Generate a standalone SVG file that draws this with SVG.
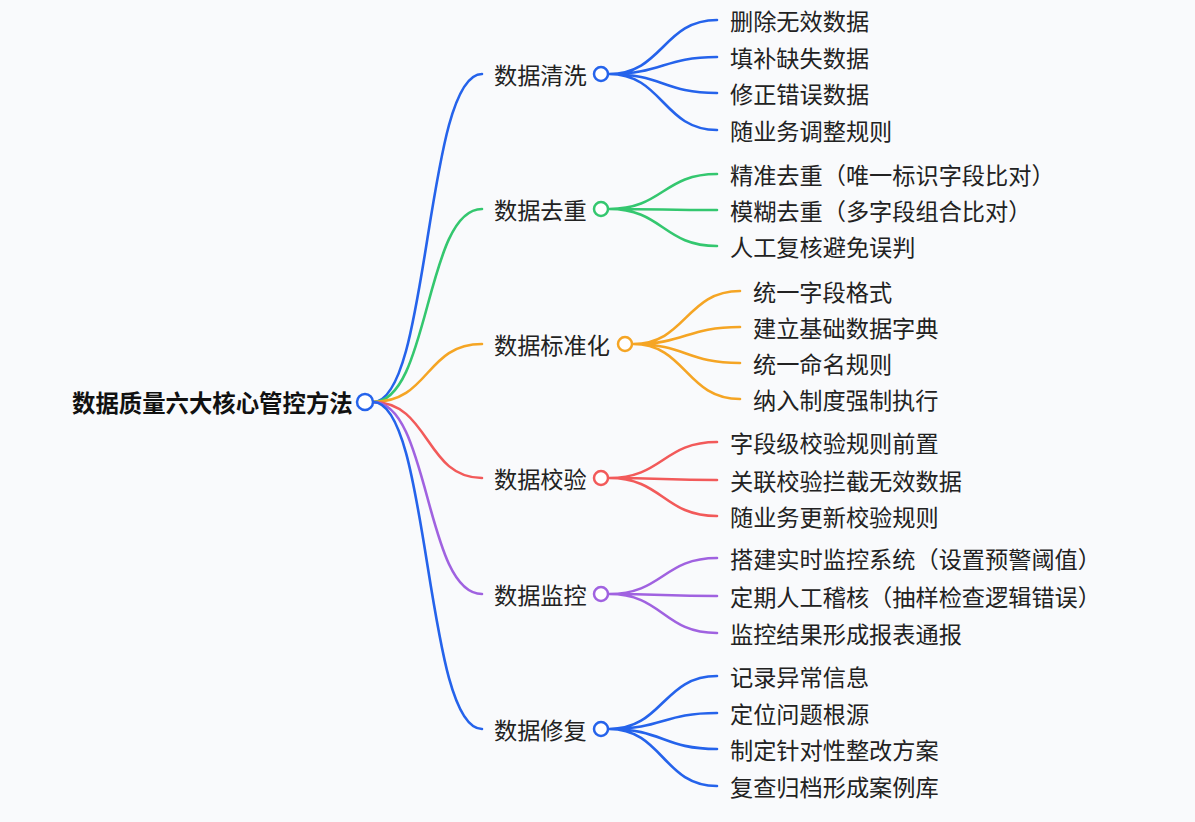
<svg xmlns="http://www.w3.org/2000/svg" width="1195" height="822" viewBox="0 0 1195 822">
<style>
text{font-family:"Noto Sans CJK SC","Noto Sans",sans-serif;font-size:23.2px;fill:#222;dominant-baseline:central}
.root{font-weight:bold;font-size:23.4px;fill:#111}
.l{fill:none;stroke-width:2.6;stroke-linecap:round}
circle{fill:#fff;stroke-width:2.5}
.b1{stroke:#2563eb}.b2{stroke:#34c76f}.b3{stroke:#f5a524}.b4{stroke:#f25a5a}.b5{stroke:#a062e0}.b6{stroke:#2563eb}
</style>
<rect width="1195" height="822" fill="#f9fafc"/>
<g id="connectors">
<path class="l b1" d="M373 402C430 402 425 74 482 74"/>
<path class="l b2" d="M373 402C430 402 425 209 482 209"/>
<path class="l b3" d="M373 402C430 402 425 344 482 344"/>
<path class="l b4" d="M373 402C430 402 425 478 482 478"/>
<path class="l b5" d="M373 402C430 402 425 594 482 594"/>
<path class="l b6" d="M373 402C430 402 425 729 482 729"/>
<path class="l b1" d="M609 74C663 74 663 20 717 20M609 74C663 74 663 57 717 57M609 74C663 74 663 93 717 93M609 74C663 74 663 130 717 130"/>
<path class="l b2" d="M609 209C663 209 663 174 717 174M609 209C663 209 663 210 717 210M609 209C663 209 663 246 717 246"/>
<path class="l b3" d="M633 344C686 344 686 291 740 291M633 344C686 344 686 327 740 327M633 344C686 344 686 363 740 363M633 344C686 344 686 399 740 399"/>
<path class="l b4" d="M609 478C663 478 663 442 717 442M609 478C663 478 663 480 717 480M609 478C663 478 663 516 717 516"/>
<path class="l b5" d="M609 594C663 594 663 558 717 558M609 594C663 594 663 596 717 596M609 594C663 594 663 633 717 633"/>
<path class="l b6" d="M609 729C663 729 663 676 717 676M609 729C663 729 663 713 717 713M609 729C663 729 663 749 717 749M609 729C663 729 663 786 717 786"/>
</g>
<g id="root"><text class="root" x="72" y="402">数据质量六大核心管控方法</text><circle class="b1" cx="365" cy="402" r="8"/></g>
<g id="n1"><text x="494" y="74">数据清洗</text><circle class="b1" cx="601" cy="74" r="7"/></g>
<g id="n1-1"><text x="730" y="20">删除无效数据</text></g>
<g id="n1-2"><text x="730" y="57">填补缺失数据</text></g>
<g id="n1-3"><text x="730" y="93">修正错误数据</text></g>
<g id="n1-4"><text x="730" y="130">随业务调整规则</text></g>
<g id="n2"><text x="494" y="209">数据去重</text><circle class="b2" cx="601" cy="209" r="7"/></g>
<g id="n2-1"><text x="730" y="174">精准去重（唯一标识字段比对）</text></g>
<g id="n2-2"><text x="730" y="210">模糊去重（多字段组合比对）</text></g>
<g id="n2-3"><text x="730" y="246">人工复核避免误判</text></g>
<g id="n3"><text x="494" y="344">数据标准化</text><circle class="b3" cx="625" cy="344" r="7"/></g>
<g id="n3-1"><text x="753" y="291">统一字段格式</text></g>
<g id="n3-2"><text x="753" y="327">建立基础数据字典</text></g>
<g id="n3-3"><text x="753" y="363">统一命名规则</text></g>
<g id="n3-4"><text x="753" y="399">纳入制度强制执行</text></g>
<g id="n4"><text x="494" y="478">数据校验</text><circle class="b4" cx="601" cy="478" r="7"/></g>
<g id="n4-1"><text x="730" y="442">字段级校验规则前置</text></g>
<g id="n4-2"><text x="730" y="480">关联校验拦截无效数据</text></g>
<g id="n4-3"><text x="730" y="516">随业务更新校验规则</text></g>
<g id="n5"><text x="494" y="594">数据监控</text><circle class="b5" cx="601" cy="594" r="7"/></g>
<g id="n5-1"><text x="730" y="558">搭建实时监控系统（设置预警阈值）</text></g>
<g id="n5-2"><text x="730" y="596">定期人工稽核（抽样检查逻辑错误）</text></g>
<g id="n5-3"><text x="730" y="633">监控结果形成报表通报</text></g>
<g id="n6"><text x="494" y="729">数据修复</text><circle class="b6" cx="601" cy="729" r="7"/></g>
<g id="n6-1"><text x="730" y="676">记录异常信息</text></g>
<g id="n6-2"><text x="730" y="713">定位问题根源</text></g>
<g id="n6-3"><text x="730" y="749">制定针对性整改方案</text></g>
<g id="n6-4"><text x="730" y="786">复查归档形成案例库</text></g>
</svg>
